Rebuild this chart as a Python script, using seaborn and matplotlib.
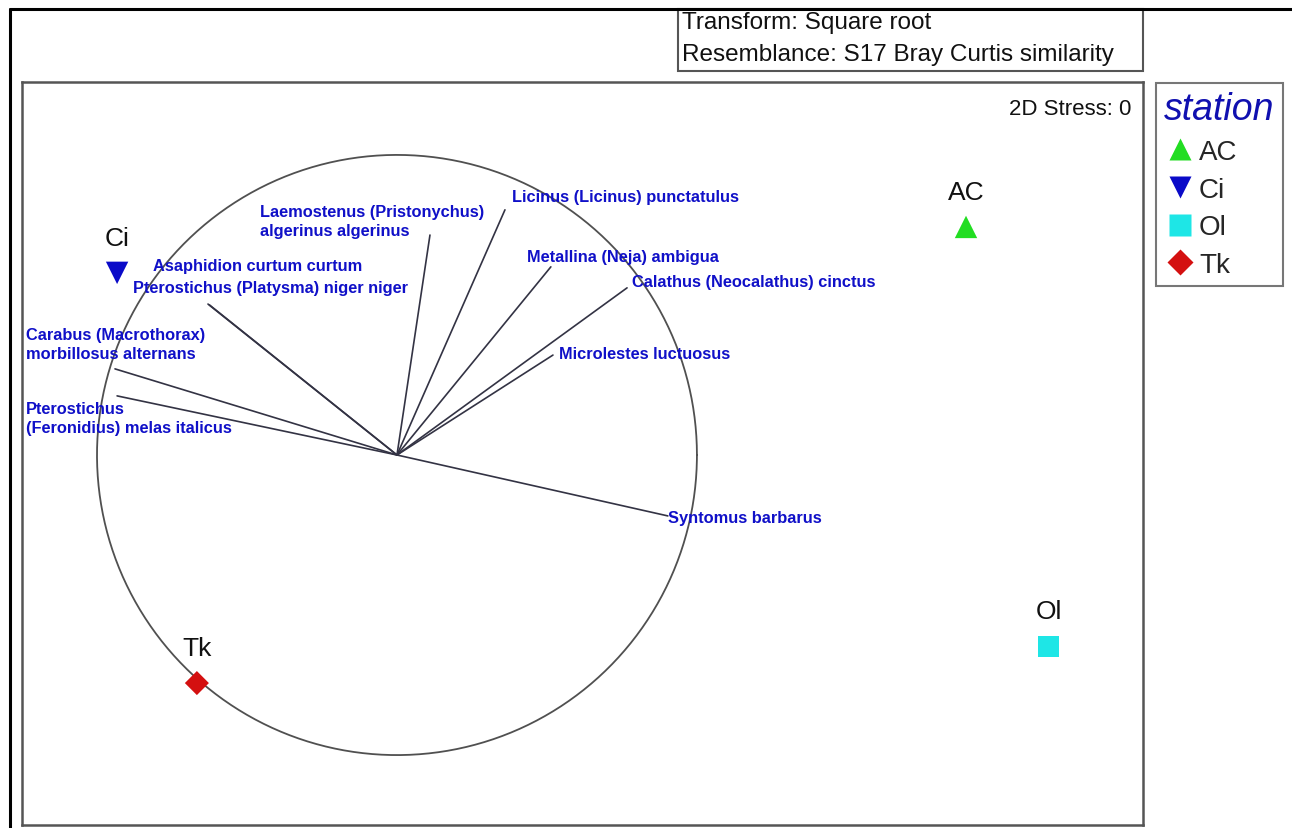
import numpy as np
import pandas as pd
import seaborn as sns
import matplotlib.pyplot as plt
from matplotlib.lines import Line2D
from matplotlib.patches import Rectangle

# ---------------- data ----------------
stations = ["AC", "Ci", "Ol", "Tk"]
st_x = [1.897, -0.933, 2.173, -0.667]
st_y = [0.760, 0.607, -0.637, -0.760]

species = [
    "Laemostenus (Pristonychus)\nalgerinus algerinus",
    "Licinus (Licinus) punctatulus",
    "Metallina (Neja) ambigua",
    "Calathus (Neocalathus) cinctus",
    "Microlestes luctuosus",
    "Syntomus barbarus",
    "Asaphidion curtum curtum",
    "Pterostichus (Platysma) niger niger",
    "Carabus (Macrothorax)\nmorbillosus alternans",
    "Pterostichus\n(Feronidius) melas italicus",
]
vec_x = [0.110, 0.360, 0.513, 0.767, 0.520, 0.903, -0.630, -0.625, -0.940, -0.933]
vec_y = [0.733, 0.817, 0.627, 0.557, 0.333, -0.203, 0.503, 0.500, 0.287, 0.197]
lab_x = [-0.457, 0.383, 0.433, 0.783, 0.540, 0.903, -0.813, -0.880, -1.237, -1.237]
lab_y = [0.780, 0.863, 0.663, 0.577, 0.337, -0.207, 0.630, 0.557, 0.370, 0.123]

stress_text = "2D Stress: 0"
info_lines = ["Transform: Square root", "Resemblance: S17 Bray Curtis similarity"]

# ---------------- styling ----------------
sns.set_theme(style="white")
plt.rcParams["font.family"] = ["Liberation Sans", "DejaVu Sans"]

W, H = 1292, 829
fig = plt.figure(figsize=(W / 100, H / 100), dpi=100)
fig.patch.set_facecolor("white")

def fx(px):
    return px / W

def fy(py):
    return 1 - py / H

# main axes (pixel box 22..1143 x 83..826)
ax = fig.add_axes([fx(22), fy(826), fx(1143) - fx(22), fy(83) - fy(826)])
ax.set_xlim(-1.25, 2.487)
ax.set_ylim(-1.233, 1.243)
ax.set_xticks([])
ax.set_yticks([])
for s in ax.spines.values():
    s.set_color("#555555")
    s.set_linewidth(1.8)

# circle
t = np.linspace(0, 2 * np.pi, 400)
ax.plot(np.cos(t), np.sin(t), color="#505050", lw=1.3, zorder=1)

# vectors
for vx, vy in zip(vec_x, vec_y):
    ax.plot([0, vx], [0, vy], color="#333344", lw=1.2, zorder=2)
for name, lx, ly in zip(species, lab_x, lab_y):
    ax.text(lx, ly, name, color="#1010c8", fontsize=11.8, fontweight="bold",
            ha="left", va="center", linespacing=1.3, zorder=3)

# stations
df = pd.DataFrame({"x": st_x, "y": st_y, "station": stations})
pal = {"AC": "#22dd22", "Ci": "#0a0ac8", "Ol": "#1ee6e6", "Tk": "#d41010"}
mk = {"AC": "^", "Ci": "v", "Ol": "s", "Tk": "D"}
sizes_pts = {"AC": 260, "Ci": 260, "Ol": 230, "Tk": 150}
for st in stations:
    sub = df[df.station == st]
    sns.scatterplot(data=sub, x="x", y="y", color=pal[st], marker=mk[st],
                    s=sizes_pts[st], edgecolor="none", ax=ax, legend=False, zorder=4)
for st, x, y in zip(stations, st_x, st_y):
    ax.annotate(st, (x, y), xytext=(0, 25), textcoords="offset points",
                ha="center", va="center", fontsize=19, color="#111111")
ax.set_xlabel("")
ax.set_ylabel("")

ax.text(0.99, 0.965, stress_text, transform=ax.transAxes, ha="right", va="center",
        fontsize=16, color="#111111")

# legend
handles = [Line2D([0], [0], marker=mk[s], color="none", markerfacecolor=pal[s],
                  markeredgecolor="none", markersize=(16 if s != "Tk" else 13))
           for s in stations]
leg = fig.legend(handles, stations, loc="upper left",
                 bbox_to_anchor=(fx(1156), fy(84)), bbox_transform=fig.transFigure,
                 borderaxespad=0, frameon=True, fancybox=False, fontsize=20,
                 title="station", handletextpad=0.15, handlelength=1.1,
                 labelspacing=0.42, borderpad=0.3)
leg.get_title().set_color("#1010b0")
leg.get_title().set_fontstyle("italic")
leg.get_title().set_fontsize(27)
leg.get_frame().set_edgecolor("#555555")
leg.get_frame().set_linewidth(1.5)
leg._legend_box.align = "left"

# outer black frame
fig.add_artist(Line2D([fx(10), 1], [fy(10), fy(10)], color="black", lw=2.2,
                      transform=fig.transFigure))
fig.add_artist(Line2D([fx(10), fx(10)], [fy(10), 0], color="black", lw=2.2,
                      transform=fig.transFigure))

# info box
fig.add_artist(Rectangle((fx(678), fy(72)), fx(1143) - fx(678), fy(10) - fy(72),
                         transform=fig.transFigure, facecolor="white",
                         edgecolor="#555555", lw=1.5))
fig.text(fx(682), fy(23), info_lines[0], fontsize=17.5, ha="left", va="center", color="#111111")
fig.text(fx(682), fy(55), info_lines[1], fontsize=17.5, ha="left", va="center", color="#111111")

fig.savefig("out.png", dpi=100)
